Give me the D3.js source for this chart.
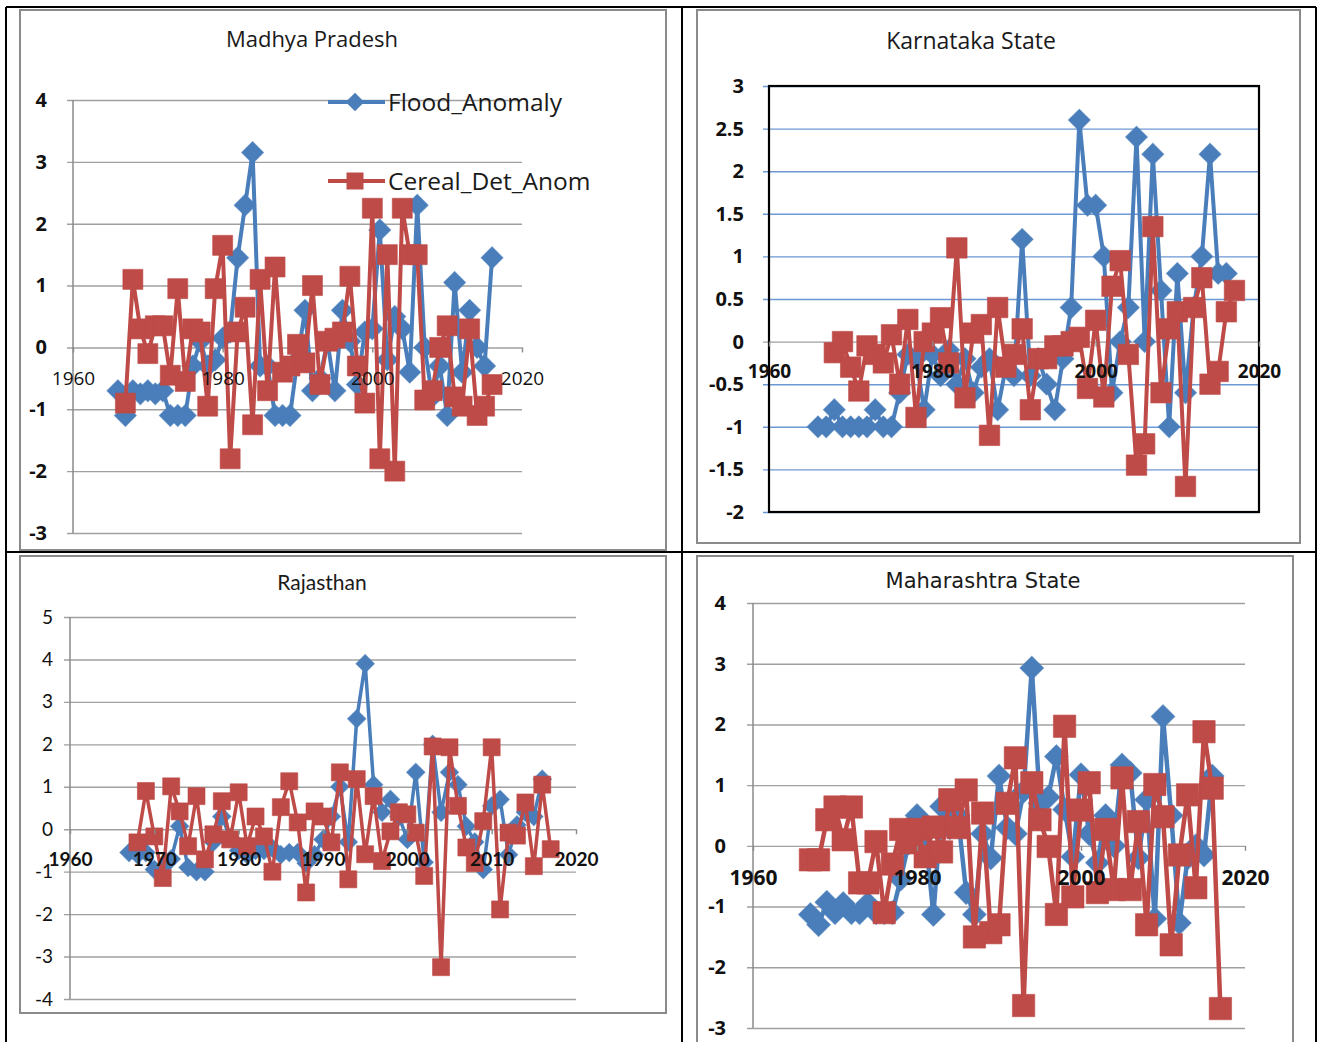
<!DOCTYPE html>
<html>
<head>
<meta charset="utf-8">
<script src="https://cdnjs.cloudflare.com/ajax/libs/d3/7.8.5/d3.min.js"></script>
<style>
  body { margin: 0; background: #fff; }
</style>
</head>
<body>
<script>
// ---- data ----
var xTickYears = [1960, 1980, 2000, 2020];
var xTickYearsRaj = [1960, 1970, 1980, 1990, 2000, 2010, 2020];
var seriesNames = ["Flood_Anomaly", "Cereal_Det_Anom"];

// Madhya Pradesh
var mpFloodStart = 1966;
var mpFlood = [-0.7, -1.1, -0.7, -0.75, -0.7, -0.75, -0.7, -1.1, -1.1, -1.1,
  -0.3, 0.1, -0.3, -0.2, 0.15, 0.25, 1.45, 2.3, 3.15, -0.3,
  -0.3, -1.1, -1.1, -1.1, -0.2, 0.6, -0.7, -0.5, 0.1, -0.7,
  0.6, 0.1, -0.6, 0.25, 0.3, 1.9, -0.2, 0.5, 0.3, -0.4,
  2.3, 0.0, -0.8, -0.3, -1.1, 1.05, -0.4, 0.6, 0.0, -0.3, 1.45];
var mpCerealStart = 1967;
var mpCereal = [-0.9, 1.1, 0.3, -0.1, 0.35, 0.35, -0.45, 0.95, -0.55, 0.3,
  0.25, -0.95, 0.95, 1.65, -1.8, 0.25, 0.65, -1.25, 1.1, -0.7,
  1.3, -0.4, -0.3, 0.05, -0.25, 1.0, -0.6, 0.1, 0.15, 0.25,
  1.15, -0.3, -0.9, 2.25, -1.8, 1.5, -2.0, 2.25, 1.5, 1.5,
  -0.85, -0.7, 0.0, 0.35, -0.8, -0.95, 0.3, -1.1, -0.95, -0.6];

// Karnataka
var kaFloodStart = 1966;
var kaFlood = [-1.0, -1.0, -0.8, -1.0, -1.0, -1.0, -1.0, -0.8, -1.0, -1.0,
  -0.6, -0.15, -0.2, -0.8, -0.15, -0.4, -0.1, -0.5, -0.2, -0.6,
  -0.3, -0.2, -0.8, -0.3, -0.4, 1.2, -0.4, -0.2, -0.5, -0.8,
  -0.2, 0.4, 2.6, 1.6, 1.6, 1.0, -0.6, 0.0, 0.4, 2.4,
  0.0, 2.2, 0.6, -1.0, 0.8, -0.6, 0.4, 1.0, 2.2, 0.8, 0.8];
var kaCerealStart = 1968;
var kaCereal = [-0.13, 0.0, -0.3, -0.58, -0.05, -0.15, -0.25, 0.08, -0.5, 0.26,
  -0.89, 0.0, 0.1, 0.28, -0.25, 1.1, -0.66, 0.1, 0.2, -1.1,
  0.4, -0.3, -0.15, 0.15, -0.8, -0.2, -0.2, -0.05, -0.05, 0.0,
  0.05, -0.55, 0.25, -0.65, 0.65, 0.95, -0.15, -1.45, -1.2, 1.35,
  -0.6, 0.15, 0.35, -1.7, 0.4, 0.75, -0.5, -0.35, 0.35, 0.6];

// Rajasthan
var rjFloodStart = 1967;
var rjFlood = [-0.55, -0.6, -0.55, -0.95, -0.9, -0.7, 0.07, -0.9, -1.0, -1.0,
  -0.3, 0.3, -0.2, -0.5, -0.6, -0.5, -0.5, -0.45, -0.6, -0.55,
  -0.55, -0.8, -0.6, -0.24, 0.3, 1.0, -0.3, 2.6, 3.9, 1.05,
  0.4, 0.7, 0.3, -0.24, 1.34, -0.78, 2.0, 0.4, 1.34, 1.05,
  0.07, -0.3, -0.95, 0.55, 0.7, -0.6, 0.1, 0.4, 0.3, 1.18];
var rjCerealStart = 1968;
var rjCereal = [-0.31, 0.9, -0.17, -1.15, 1.01, 0.42, -0.4, 0.78, -0.71, -0.12,
  0.66, -0.24, 0.87, -0.4, 0.3, -0.17, -1.0, 0.52, 1.13, 0.16,
  -1.49, 0.42, 0.3, -0.31, 1.34, -1.18, 1.18, -0.59, 0.78, -0.75,
  -0.05, 0.4, 0.35, -0.08, -1.1, 1.95, -3.25, 1.93, 0.55, -0.43,
  -0.8, 0.19, 1.93, -1.89, -0.08, -0.15, 0.63, -0.87, 1.05, -0.47];

// Maharashtra
var mhFloodStart = 1967;
var mhFlood = [-1.13, -1.3, -0.93, -1.1, -0.95, -1.1, -1.1, -0.95, -1.1, -1.1,
  -1.1, -0.55, 0.05, 0.5, 0.2, -1.13, 0.65, 0.3, 0.5, -0.77,
  -1.13, 0.2, -0.2, 1.15, 0.3, 0.2, 0.9, 2.93, 0.7, 0.8,
  1.47, 0.6, -0.18, 1.17, 0.2, -0.28, 0.5, 0.0, 1.33, 1.2,
  -0.2, 0.76, -1.2, 2.13, 0.5, -1.27, -0.2, 0.0, -0.15, 1.15];
var mhCerealStart = 1967;
var mhCereal = [-0.23, -0.23, 0.43, 0.64, 0.1, 0.64, -0.61, -0.61, 0.07, -1.1,
  -0.3, 0.27, 0.05, 0.27, -0.18, 0.31, -0.1, 0.76, 0.3, 0.92,
  -1.5, 0.54, -1.43, -1.3, 0.7, 1.45, -2.63, 1.04, 0.43, -0.01,
  -1.13, 1.97, -0.84, 0.59, 1.04, -0.77, 0.27, -0.72, 1.12, -0.72,
  0.4, -1.3, 1.01, 0.48, -1.63, -0.15, 0.84, -0.69, 1.88, 0.95, -2.68];

function toPoints(start, vals) {
  return vals.map(function (v, i) { return { year: start + i, value: v }; });
}

var blue = "#4a7ebb";
var red = "#be4b48";
var plainNum = function (d) { return String(+d.toFixed(1)); }; // hyphen minus, like the original

var svg = d3.select("body").append("svg")
  .attr("width", 1317)
  .attr("height", 1042)
  .style("display", "block");

svg.append("rect").attr("width", 1317).attr("height", 1042).attr("fill", "#fff");

// table lines around the four pictures
var tableLines = [
  [6, 7, 1316, 7], [6, 552, 1316, 552],
  [6, 7, 6, 1042], [682, 7, 682, 1042], [1316, 7, 1316, 1042]
];
svg.selectAll("line.table").data(tableLines).enter().append("line")
  .attr("class", "table")
  .attr("x1", function (d) { return d[0]; }).attr("y1", function (d) { return d[1]; })
  .attr("x2", function (d) { return d[2]; }).attr("y2", function (d) { return d[3]; })
  .attr("stroke", "#000").attr("stroke-width", 2);

var panels = [
  {
    title: "Madhya Pradesh", titleX: 312, titleY: 39, titleFont: "Open Sans", titleSize: 22,
    frame: [20, 10, 646, 540],
    px0: 73, px1: 522, py0: 100, py1: 533,
    yDom: [-3, 4], yTicks: d3.range(-3, 5, 1),
    yFont: "Open Sans", yBold: true, ySize: 20, yLabelRight: 47,
    xTicks: xTickYears, xFont: "Open Sans", xBold: false, xSize: 19, xLabelOff: 31,
    grid: "#a0a0a0", zeroGrid: "#a0a0a0", box: false,
    flood: toPoints(mpFloodStart, mpFlood), cereal: toPoints(mpCerealStart, mpCereal),
    diamond: 240, square: 400, lw: 4, legend: true
  },
  {
    title: "Karnataka State", titleX: 971, titleY: 41, titleFont: "Open Sans", titleSize: 23,
    frame: [697, 10, 603, 533],
    px0: 769, px1: 1259, py0: 86, py1: 512,
    yDom: [-2, 3], yTicks: d3.range(-2, 3.01, 0.5),
    yFont: "Open Sans", yBold: true, ySize: 20, yLabelRight: 744,
    xTicks: xTickYears, xFont: "Open Sans", xBold: true, xSize: 19, xLabelOff: 30,
    grid: "#6c98d4", zeroGrid: "#a0a0a0", box: true,
    flood: toPoints(kaFloodStart, kaFlood), cereal: toPoints(kaCerealStart, kaCereal),
    diamond: 240, square: 420, lw: 4, legend: false
  },
  {
    title: "Rajasthan", titleX: 322, titleY: 583, titleFont: "Lato", titleSize: 21,
    frame: [20, 556, 646, 457],
    px0: 70, px1: 576, py0: 617, py1: 999,
    yDom: [-4, 5], yTicks: d3.range(-4, 6, 1),
    yFont: "Lato", yBold: false, ySize: 19, yLabelRight: 53,
    xTicks: xTickYearsRaj, xFont: "Lato", xBold: true, xSize: 19, xLabelOff: 30,
    grid: "#a0a0a0", zeroGrid: "#a0a0a0", box: false,
    flood: toPoints(rjFloodStart, rjFlood), cereal: toPoints(rjCerealStart, rjCereal),
    diamond: 170, square: 290, lw: 3.5, legend: false
  },
  {
    title: "Maharashtra State", titleX: 983, titleY: 581, titleFont: "DejaVu Sans", titleSize: 21,
    frame: [697, 556, 596, 500],
    px0: 753, px1: 1245, py0: 603, py1: 1028,
    yDom: [-3, 4], yTicks: d3.range(-3, 5, 1),
    yFont: "Open Sans", yBold: true, ySize: 20, yLabelRight: 726,
    xTicks: xTickYears, xFont: "Open Sans", xBold: true, xSize: 21, xLabelOff: 32,
    grid: "#a0a0a0", zeroGrid: "#a0a0a0", box: false,
    flood: toPoints(mhFloodStart, mhFlood), cereal: toPoints(mhCerealStart, mhCereal),
    diamond: 280, square: 500, lw: 4.5, legend: false
  }
];

panels.forEach(drawPanel);

function drawPanel(p) {
  var g = svg.append("g");

  g.append("rect")
    .attr("x", p.frame[0]).attr("y", p.frame[1])
    .attr("width", p.frame[2]).attr("height", p.frame[3])
    .attr("fill", "#fff").attr("stroke", "#8a8a8a").attr("stroke-width", 2);

  g.append("text")
    .attr("x", p.titleX).attr("y", p.titleY).attr("dy", "0.35em")
    .attr("text-anchor", "middle")
    .style("font-family", p.titleFont).style("font-size", p.titleSize + "px")
    .style("fill", "#1a1a1a")
    .text(p.title);

  var x = d3.scaleLinear().domain([1960, 2020]).range([p.px0, p.px1]);
  var y = d3.scaleLinear().domain(p.yDom).range([p.py1, p.py0]);

  // gridlines + outside tick marks + labels, all from one left axis placed at the right edge
  var w = p.px1 - p.px0;
  var yAxis = g.append("g")
    .attr("transform", "translate(" + p.px1 + ",0)")
    .call(d3.axisLeft(y).tickValues(p.yTicks).tickFormat(plainNum).tickSize(w + 6).tickPadding(0));
  yAxis.select(".domain").remove();
  yAxis.selectAll(".tick line")
    .attr("stroke", function (d) { return Math.abs(d) < 1e-9 ? p.zeroGrid : p.grid; })
    .attr("stroke-width", 1.4);
  yAxis.selectAll(".tick text")
    .attr("x", -(p.px1 - p.yLabelRight))
    .style("font-family", p.yFont).style("font-size", p.ySize + "px")
    .style("font-weight", p.yBold ? "bold" : "normal").style("fill", "#111");

  // vertical axis line
  g.append("line")
    .attr("x1", p.px0).attr("x2", p.px0).attr("y1", p.py0).attr("y2", p.py1)
    .attr("stroke", p.box ? "#000" : "#8a8a8a").attr("stroke-width", p.box ? 2 : 1.5);

  if (p.box) {
    g.append("rect")
      .attr("x", p.px0).attr("y", p.py0).attr("width", w).attr("height", p.py1 - p.py0)
      .attr("fill", "none").attr("stroke", "#000").attr("stroke-width", 2.2);
  }

  var line = d3.line()
    .x(function (d) { return x(d.year); })
    .y(function (d) { return y(d.value); });

  var diamondPath = d3.symbol().type(d3.symbolSquare).size(p.diamond)();
  var squarePath = d3.symbol().type(d3.symbolSquare).size(p.square)();

  var series = [
    { data: p.flood, color: blue, path: diamondPath, rot: 45 },
    { data: p.cereal, color: red, path: squarePath, rot: 0 }
  ];

  series.forEach(function (s) {
    g.append("path")
      .datum(s.data)
      .attr("d", line)
      .attr("fill", "none")
      .attr("stroke", s.color)
      .attr("stroke-width", p.lw)
      .attr("stroke-linejoin", "round");

    g.selectAll(null)
      .data(s.data)
      .enter().append("path")
      .attr("d", s.path)
      .attr("transform", function (d) {
        return "translate(" + x(d.year) + "," + y(d.value) + ") rotate(" + s.rot + ")";
      })
      .attr("fill", s.color)
      .attr("stroke", s.color)
      .attr("stroke-width", 1)
      .attr("stroke-opacity", 0.6);
  });

  // x axis sits on the zero line; its labels are painted over the series, as in the original
  var xAxis = g.append("g")
    .attr("transform", "translate(0," + y(0) + ")")
    .call(d3.axisBottom(x).tickValues(p.xTicks).tickFormat(d3.format("d")).tickSize(5));
  xAxis.select(".domain").remove();
  xAxis.selectAll(".tick line").attr("stroke", "#8a8a8a").attr("stroke-width", 1.4);
  xAxis.selectAll(".tick text")
    .attr("y", p.xLabelOff).attr("dy", "0.35em")
    .style("font-family", p.xFont).style("font-size", p.xSize + "px")
    .style("font-weight", p.xBold ? "bold" : "normal").style("fill", "#111");

  if (p.legend) {
    var legendItems = [
      { name: seriesNames[0], color: blue, path: diamondPath, rot: 45, y: 102 },
      { name: seriesNames[1], color: red, path: squarePath, rot: 0, y: 181 }
    ];
    var lg = g.selectAll("g.legend").data(legendItems).enter().append("g")
      .attr("class", "legend")
      .attr("transform", function (d) { return "translate(328," + d.y + ")"; });
    lg.append("line")
      .attr("x1", 0).attr("x2", 57).attr("y1", 0).attr("y2", 0)
      .attr("stroke", function (d) { return d.color; }).attr("stroke-width", p.lw);
    lg.append("path")
      .attr("d", function (d) { return d.path; })
      .attr("transform", function (d) { return "translate(27,0) rotate(" + d.rot + ") scale(0.85)"; })
      .attr("fill", function (d) { return d.color; });
    lg.append("text")
      .attr("x", 60).attr("dy", "0.35em")
      .style("font-family", "Open Sans").style("font-size", "24.5px").style("fill", "#1a1a1a")
      .text(function (d) { return d.name; });
  }
}
</script>
</body>
</html>
